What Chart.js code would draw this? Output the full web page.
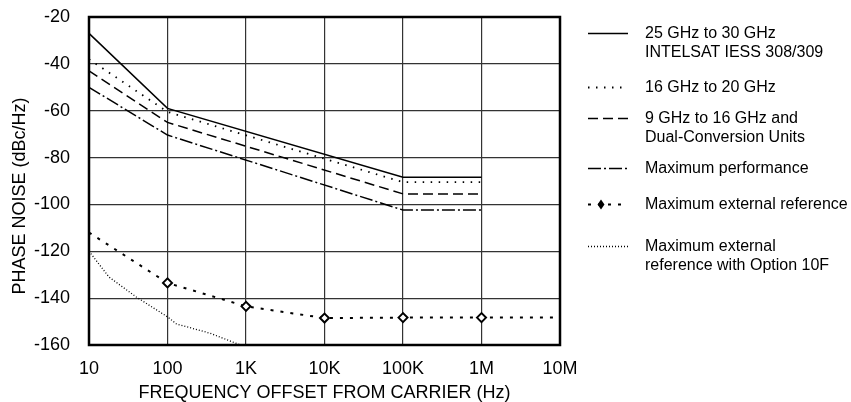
<!DOCTYPE html>
<html>
<head>
<meta charset="utf-8">
<script src="https://cdn.jsdelivr.net/npm/chart.js@4.4.1/dist/chart.umd.min.js"></script>
<style>
    html, body { margin: 0; padding: 0; background: #fff; }
    #wrap { position: relative; width: 851px; height: 402px; font-family: "Liberation Sans", Arial, sans-serif; }
    #chart { position: absolute; left: 0; top: 0; }
    .leg { position: absolute; left: 588px; font-size: 16px; line-height: 18.5px; color: #000; }
    .leg canvas { position: absolute; left: 0; top: 0; }
    .leg span { position: absolute; left: 57px; top: 0; white-space: nowrap; }
</style>
</head>
<body>
<div id="wrap">
    <canvas id="chart" width="851" height="402"></canvas>
    <div id="legend"></div>
</div>
<script>
// Eixo X (Hz) e rótulos
const xTicks = [10, 100, 1000, 10000, 100000, 1000000, 10000000];
const xLabels = ['10', '100', '1K', '10K', '100K', '1M', '10M'];
const yTicks = [-160, -140, -120, -100, -80, -60, -40, -20];

// Séries (frequência, ruído de fase dBc/Hz)
const ka_x = [10, 100, 100000, 1000000];
const ka_y = [-27, -59, -88.4, -88.4];

const ku_x = [10, 100, 100000, 1000000];
const ku_y = [-38, -60.5, -90.5, -90.5];

const x9_x = [10, 100, 100000, 1000000];
const x9_y = [-43, -65, -95.5, -95.5];

const max_x = [10, 100, 100000, 1000000];
const max_y = [-50, -70.4, -102.4, -102.4];

const ext_x = [10, 100, 1000, 10000, 100000, 1000000, 10000000];
const ext_y = [-112, -133.5, -143.5, -148.5, -148.3, -148.3, -148.3];

const opt_x = [10, 18, 40, 100, 130, 350, 850];
const opt_y = [-120, -131, -139.5, -148, -151, -155, -160];

const legendItems = [
    { top: 24, text: ['25 GHz to 30 GHz', 'INTELSAT IESS 308/309'], dash: [], width: 1.5 },
    { top: 78, text: ['16 GHz to 20 GHz'], dash: [1.5, 6.5], width: 1.8 },
    { top: 109, text: ['9 GHz to 16 GHz and', 'Dual-Conversion Units'], dash: [10, 5], width: 1.5 },
    { top: 159, text: ['Maximum performance'], dash: [13, 3, 2, 3], width: 1.5 },
    { top: 195, text: ['Maximum external reference'], dash: [3, 7], width: 2, marker: true },
    { top: 237, text: ['Maximum external', 'reference with Option 10F'], dash: [1, 2], width: 1.3 }
];

const pts = (xs, ys) => xs.map((x, i) => ({ x: x, y: ys[i] }));

function serie(xs, ys, dash, width) {
    return {
        data: pts(xs, ys),
        borderColor: '#000',
        borderWidth: width,
        borderDash: dash,
        pointRadius: 0,
        tension: 0,
        fill: false
    };
}

const extSerie = serie(ext_x, ext_y, [3, 7], 2);
extSerie.pointRadius = ext_x.map((x, i) => (i === 0 || i === ext_x.length - 1) ? 0 : 4.5);
extSerie.pointStyle = 'rectRot';
extSerie.pointBackgroundColor = '#fff';
extSerie.pointBorderColor = '#000';
extSerie.pointBorderWidth = 2;

// Moldura grossa da área do gráfico + título do eixo Y
const frame = {
    id: 'frame',
    afterDraw(chart) {
        const { ctx, chartArea: a } = chart;
        ctx.save();
        ctx.strokeStyle = '#000';
        ctx.lineWidth = 2.5;
        ctx.strokeRect(a.left, a.top, a.right - a.left, a.bottom - a.top);
        ctx.translate(20, 196);
        ctx.rotate(-Math.PI / 2);
        ctx.fillStyle = '#000';
        ctx.font = '18px "Liberation Sans", Arial, sans-serif';
        ctx.textAlign = 'center';
        ctx.textBaseline = 'middle';
        ctx.fillText('PHASE NOISE (dBc/Hz)', 0, 0);
        ctx.restore();
    }
};

Chart.defaults.font.family = '"Liberation Sans", Arial, sans-serif';
Chart.defaults.color = '#000';

new Chart(document.getElementById('chart'), {
    type: 'line',
    data: {
        datasets: [
            serie(ka_x, ka_y, [], 1.5),
            serie(ku_x, ku_y, [1.5, 6.5], 1.8),
            serie(x9_x, x9_y, [10, 5], 1.5),
            serie(max_x, max_y, [13, 3, 2, 3], 1.5),
            extSerie,
            serie(opt_x, opt_y, [1, 2], 1.3)
        ]
    },
    options: {
        responsive: false,
        animation: false,
        events: [],
        layout: { padding: { left: 0, right: 291, top: 17, bottom: 0 } },
        plugins: { legend: { display: false }, tooltip: { enabled: false } },
        scales: {
            x: {
                type: 'logarithmic',
                min: 10,
                max: 10000000,
                afterBuildTicks: s => { s.ticks = xTicks.map(v => ({ value: v })); },
                afterFit: s => { s.height = 57; s.paddingLeft = 0; s.paddingRight = 0; },
                grid: { color: '#333', lineWidth: 1.2, drawTicks: false },
                border: { display: false },
                ticks: {
                    autoSkip: false,
                    maxRotation: 0,
                    padding: 13,
                    font: { size: 18 },
                    callback: (v, i) => xLabels[i]
                },
                title: {
                    display: true,
                    text: 'FREQUENCY OFFSET FROM CARRIER (Hz)',
                    font: { size: 18, lineHeight: 1 },
                    padding: { top: 0, bottom: 0 }
                }
            },
            y: {
                min: -160,
                max: -20,
                afterBuildTicks: s => { s.ticks = yTicks.map(v => ({ value: v })); },
                afterFit: s => { s.width = 89; s.paddingTop = 0; s.paddingBottom = 0; },
                grid: { color: '#333', lineWidth: 1.2, drawTicks: false },
                border: { display: false },
                ticks: { padding: 19, font: { size: 18 } }
            }
        }
    },
    plugins: [frame]
});

// Legenda à direita
const legend = document.getElementById('legend');
legendItems.forEach(item => {
    const div = document.createElement('div');
    div.className = 'leg';
    div.style.top = item.top + 'px';
    const cv = document.createElement('canvas');
    cv.width = 44;
    cv.height = 20;
    const c = cv.getContext('2d');
    c.strokeStyle = '#000';
    c.lineWidth = item.width;
    c.setLineDash(item.dash);
    c.beginPath();
    c.moveTo(0, 9.5);
    c.lineTo(40, 9.5);
    c.stroke();
    if (item.marker) {
        c.setLineDash([]);
        c.fillStyle = '#000';
        c.beginPath();
        c.moveTo(13, 4.5);
        c.lineTo(16.5, 9.5);
        c.lineTo(13, 14.5);
        c.lineTo(9.5, 9.5);
        c.closePath();
        c.fill();
    }
    div.appendChild(cv);
    const span = document.createElement('span');
    span.innerHTML = item.text.join('<br>');
    div.appendChild(span);
    legend.appendChild(div);
});
</script>
</body>
</html>
